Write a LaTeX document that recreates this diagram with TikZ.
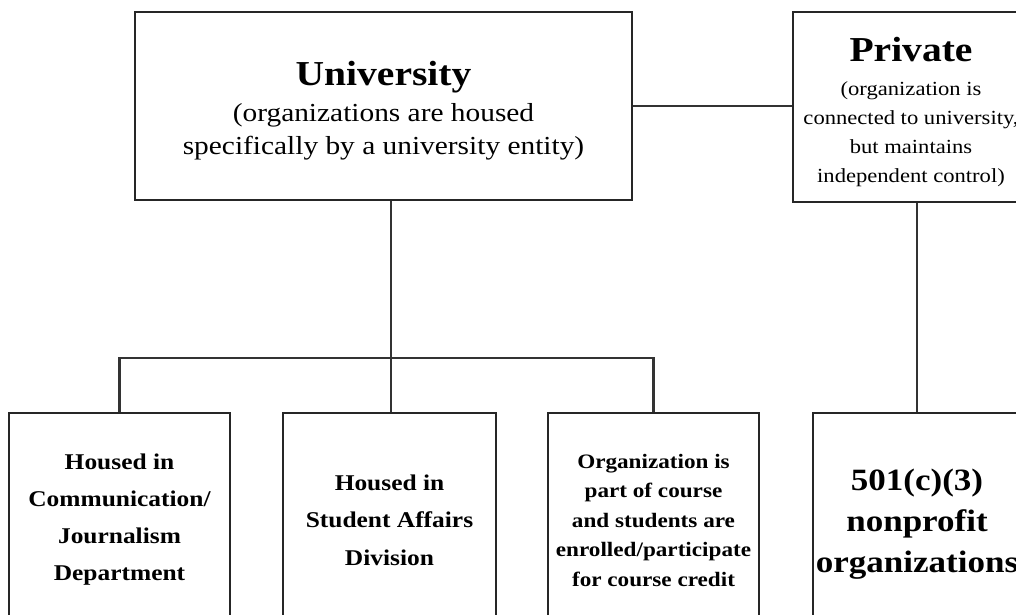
\documentclass[tikz,border=0pt]{standalone}
\usepackage{fontspec}
\setmainfont[FakeStretch=1.13]{Liberation Serif}

\begin{document}
\begin{tikzpicture}[x=1pt,y=-1pt]
	\tikzset{box/.style = {draw=black!85, line width=2.2pt, rectangle, align=center, inner sep=0pt},
		link/.style = {draw=black!80, line width=2.2pt}}
	\path[use as bounding box, fill=white] (0,0) rectangle (1016,614);

	% Knoten
	\node[box, minimum width=497, minimum height=188, font=\fontsize{26}{33}\selectfont] (uni) at (383.5,106)
		{{\rule{0pt}{34pt}\fontsize{35}{40}\selectfont\bfseries University}\\[3pt](organizations are housed\\specifically by a university entity)};
	\node[box, minimum width=236, minimum height=190, font=\fontsize{20}{29}\selectfont] (priv) at (911,107)
		{{\rule{0pt}{34pt}\fontsize{35}{42}\selectfont\bfseries Private}\\[5pt](organization is\\connected to university,\\but maintains\\independent control)};
	\node[box, minimum width=221, minimum height=214, font=\bfseries\fontsize{22.5}{37}\selectfont] (komm) at (119.5,520)
		{Housed in\\Communication/\\Journalism\\Department};
	\node[box, minimum width=213, minimum height=214, font=\bfseries\fontsize{22.5}{37.5}\selectfont] (stud) at (389.5,520)
		{Housed in\\Student Affairs\\Division};
	\node[box, minimum width=211, minimum height=214, font=\bfseries\fontsize{20.5}{29.5}\selectfont] (kurs) at (653.5,520)
		{Organization is\\part of course\\and students are\\enrolled/participate\\for course credit};
	\node[box, minimum width=208, minimum height=214, font=\bfseries\fontsize{31}{41}\selectfont] (npo) at (917,520)
		{{\rule{0pt}{30pt}501(c)(3)}\\nonprofit\\organizations};
	\coordinate (mitte) at (391,358);

	% Kanten
	\draw[link] (uni.east) -- (uni.east -| priv.west);
	\draw[link] (uni.south -| mitte) -- (mitte);
	\draw[link] (komm.north) |- (mitte) -| (kurs.north);
	\draw[link] (mitte) -- (mitte |- stud.north);
	\draw[link] (priv.south -| npo.north) -- (npo.north);
\end{tikzpicture}
\end{document}
